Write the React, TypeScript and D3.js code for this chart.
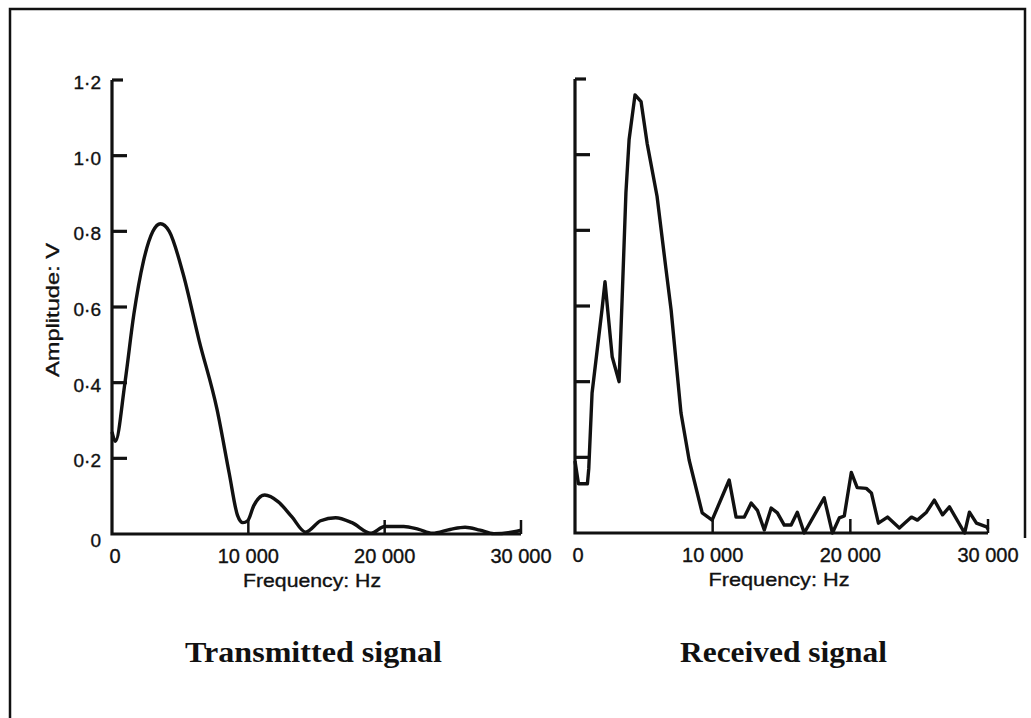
import React from "react";
import * as d3 from "d3";

// Frequency axis (Hz)
const freqTicks = [0, 10000, 20000, 30000];
const freqTickLabels = ["0", "10 000", "20 000", "30 000"];

// Amplitude axis (V)
const ampTicks = [0, 0.2, 0.4, 0.6, 0.8, 1.0, 1.2];
const ampTickLabels = ["0", "0·2", "0·4", "0·6", "0·8", "1·0", "1·2"];

// Spectrum of the transmitted pulse
const transmittedFreq = [
  0, 250, 950, 1600, 2300, 3000, 3550, 4200, 5200, 6400, 7700, 8600, 9200, 9600,
  9950, 10400, 11200, 12200, 13200, 14200, 15300, 16400, 17600, 19000, 20000,
  21400, 22500, 23500, 24800, 25900, 27000, 28000, 29500, 30000,
];
const transmittedAmp = [
  0.27, 0.245, 0.4, 0.58, 0.72, 0.8, 0.82, 0.8, 0.69, 0.51, 0.33, 0.16, 0.05, 0.03,
  0.035, 0.075, 0.103, 0.085, 0.045, 0.005, 0.035, 0.043, 0.03, 0.002, 0.02,
  0.02, 0.012, 0.002, 0.012, 0.018, 0.01, 0.001, 0.006, 0.01,
];

// Spectrum of the received signal
const receivedFreq = [
  0, 250, 550, 900, 1000, 1240, 1960, 2180, 2700, 3200, 3420, 3700, 3930, 4360,
  4800, 5240, 5960, 6600, 6980, 7700, 8290, 9240, 9960, 11200, 11700, 12300,
  12800, 13250, 13750, 14250, 14700, 15200, 15700, 16150, 16650, 18100, 18700,
  19200, 19560, 20070, 20500, 21160, 21530, 22040, 22700, 23560, 24440, 24870,
  25530, 26100, 26700, 27200, 28300, 28650, 29160, 29900, 30000,
];
const receivedAmp = [
  0.19, 0.13, 0.13, 0.13, 0.17, 0.37, 0.59, 0.664, 0.466, 0.4, 0.616, 0.9, 1.04,
  1.158, 1.14, 1.03, 0.89, 0.7, 0.59, 0.317, 0.193, 0.053, 0.034, 0.14, 0.042,
  0.042, 0.079, 0.06, 0.008, 0.066, 0.053, 0.021, 0.021, 0.055, 0.0, 0.093, 0.0,
  0.04, 0.045, 0.16, 0.12, 0.118, 0.106, 0.026, 0.042, 0.013, 0.042, 0.034,
  0.055, 0.087, 0.048, 0.069, 0.0, 0.055, 0.026, 0.016, 0.01,
];

const INK = "#111";
const SANS = "'Liberation Sans', Arial, Helvetica, sans-serif";
const SERIF = "'Liberation Serif', 'Times New Roman', serif";

type PanelProps = {
  freq: number[];
  amp: number[];
  xRange: [number, number];
  yRange: [number, number];
  curve: d3.CurveFactory;
  showAmpLabels: boolean;
  xTitleCenter: number;
  xTitleLength: number;
  title: string;
  titleStart: number;
  titleLength: number;
};

function Panel(p: PanelProps) {
  const x = d3.scaleLinear().domain([0, 30000]).range(p.xRange);
  const y = d3.scaleLinear().domain([0, 1.2]).range(p.yRange);
  const pts: [number, number][] = p.freq.map((f, i) => [f, p.amp[i]]);
  const line = d3
    .line<[number, number]>()
    .x((d) => x(d[0]))
    .y((d) => y(d[1]))
    .curve(p.curve);
  const x0 = x(0);
  const y0 = y(0);
  const labelStyle = { stroke: INK, strokeWidth: 0.35 };
  return (
    <g>
      {/* axes */}
      <path
        d={`M${x0},${y(1.2)}V${y0}H${x(30000)}`}
        fill="none"
        stroke={INK}
        strokeWidth={3.2}
        strokeLinejoin="miter"
      />
      {ampTicks.slice(1).map((t) => (
        <line
          key={"yt" + t}
          x1={x0}
          x2={x0 + (t === 1.2 ? 11 : 15)}
          y1={y(t)}
          y2={y(t)}
          stroke={INK}
          strokeWidth={3.2}
        />
      ))}
      {freqTicks.slice(1).map((t) => (
        <line
          key={"xt" + t}
          x1={x(t)}
          x2={x(t)}
          y1={y0}
          y2={y0 - 14}
          stroke={INK}
          strokeWidth={2.5}
        />
      ))}
      {p.showAmpLabels &&
        ampTicks.map((t, i) => (
          <text
            key={"yl" + t}
            x={x0 - 11}
            y={y(t) + (t === 0 ? 8 : 4)}
            textAnchor="end"
            dominantBaseline="middle"
            fontFamily={SANS}
            fontSize={19}
            fill={INK}
            style={labelStyle}
          >
            {ampTickLabels[i]}
          </text>
        ))}
      {freqTicks.map((t, i) => (
        <text
          key={"xl" + t}
          x={x(t) + (t === 0 ? 3 : 0)}
          y={y0 + 29}
          textAnchor="middle"
          fontFamily={SANS}
          fontSize={20}
          fill={INK}
          style={labelStyle}
        >
          {freqTickLabels[i]}
        </text>
      ))}
      <text
        x={p.xTitleCenter}
        y={y0 + 53}
        textAnchor="middle"
        fontFamily={SANS}
        fontSize={19}
        fill={INK}
        style={labelStyle}
        textLength={p.xTitleLength}
        lengthAdjust="spacingAndGlyphs"
      >
        Frequency: Hz
      </text>
      {p.showAmpLabels && (
        <text
          transform="translate(59,310) rotate(-90)"
          textAnchor="middle"
          fontFamily={SANS}
          fontSize={19}
          fill={INK}
          style={labelStyle}
          textLength={134}
          lengthAdjust="spacingAndGlyphs"
        >
          Amplitude: V
        </text>
      )}
      {/* spectrum */}
      <path
        d={line(pts) ?? ""}
        fill="none"
        stroke={INK}
        strokeWidth={3.4}
        strokeLinejoin="round"
      />
      <text
        x={p.titleStart}
        y={662}
        fontFamily={SERIF}
        fontWeight="bold"
        fontSize={30}
        fill={INK}
        textLength={p.titleLength}
        lengthAdjust="spacingAndGlyphs"
      >
        {p.title}
      </text>
    </g>
  );
}

export default function App() {
  return (
    <svg
      width={1031}
      height={718}
      viewBox="0 0 1031 718"
      style={{ position: "absolute", left: 0, top: 0, background: "#fff" }}
    >
      <rect x={0} y={0} width={1031} height={718} fill="#fff" />
      {/* frame */}
      <path
        d="M10,718V9H1025V538"
        fill="none"
        stroke={INK}
        strokeWidth={2.5}
      />
      <Panel
        freq={transmittedFreq}
        amp={transmittedAmp}
        xRange={[112, 521]}
        yRange={[534, 80]}
        curve={d3.curveMonotoneX}
        showAmpLabels={true}
        xTitleCenter={312}
        xTitleLength={138}
        title="Transmitted signal"
        titleStart={185}
        titleLength={257}
      />
      <Panel
        freq={receivedFreq}
        amp={receivedAmp}
        xRange={[575, 988]}
        yRange={[533, 79]}
        curve={d3.curveLinear}
        showAmpLabels={false}
        xTitleCenter={779}
        xTitleLength={141}
        title="Received signal"
        titleStart={680}
        titleLength={207}
      />
    </svg>
  );
}
